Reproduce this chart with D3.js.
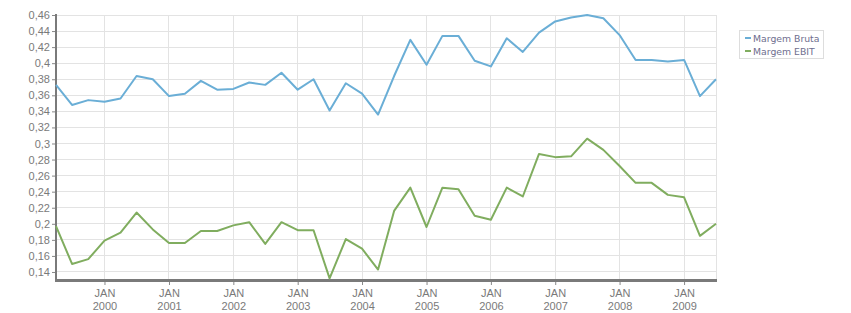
<!DOCTYPE html>
<html><head><meta charset="utf-8">
<script src="https://cdn.jsdelivr.net/npm/d3@7"></script>
<style>
body{margin:0;background:#fff;}
svg{display:block;font-family:"DejaVu Sans",Verdana,sans-serif;}
</style></head>
<body><svg id="c" width="851" height="313"></svg>
<script>
const startQuarter = "1999-04-01";
const seriesNames = ["Margem Bruta", "Margem EBIT"];
const margemBruta = [0.373,0.348,0.354,0.352,0.356,0.384,0.380,0.359,0.362,0.378,0.367,0.368,0.376,0.373,0.388,0.367,0.380,0.341,0.375,0.362,0.336,
  0.384,0.429,0.398,0.434,0.434,0.403,0.396,0.431,0.414,0.438,0.452,0.457,0.460,0.456,0.435,0.404,0.404,0.402,0.404,0.359,0.380];
const margemEbit = [0.197,0.150,0.156,0.179,0.189,0.214,0.193,0.176,0.176,0.191,0.191,0.198,0.202,0.175,0.202,0.192,0.192,0.132,0.181,0.169,0.143,
  0.216,0.245,0.196,0.245,0.243,0.210,0.205,0.245,0.234,0.287,0.283,0.284,0.306,0.292,0.272,0.251,0.251,0.236,0.233,0.185,0.200];
const yTicks = [0.14,0.16,0.18,0.2,0.22,0.24,0.26,0.28,0.3,0.32,0.34,0.36,0.38,0.4,0.42,0.44,0.46];
const xTickYears = [2000,2001,2002,2003,2004,2005,2006,2007,2008,2009];
const colors = ["#6aaed6","#80ad5f"];

const start = d3.timeParse("%Y-%m-%d")(startQuarter);
const dates = margemBruta.map((_, i) => d3.timeMonth.offset(start, 3 * i));
const svg = d3.select("#c");
const L = 56, R = 716, T = 15, B = 280;
const x = d3.scaleTime().domain([dates[0], dates[dates.length - 1]]).range([L, R]);
const y = d3.scaleLinear().domain([0.13, 0.46]).range([B, T]);
const xTickDates = xTickYears.map(yr => new Date(yr, 0, 1));

// grid
svg.append("g").selectAll("line").data(yTicks).join("line")
  .attr("x1", L).attr("x2", R).attr("y1", d => y(d)).attr("y2", d => y(d))
  .attr("stroke", "#e3e3e3").attr("stroke-width", 1).attr("shape-rendering", "crispEdges");
svg.append("g").selectAll("line").data(xTickDates).join("line")
  .attr("x1", d => x(d)).attr("x2", d => x(d)).attr("y1", T).attr("y2", B)
  .attr("stroke", "#e3e3e3").attr("stroke-width", 1).attr("shape-rendering", "crispEdges");
svg.append("line").attr("x1", R).attr("x2", R).attr("y1", T).attr("y2", B)
  .attr("stroke", "#e3e3e3").attr("shape-rendering", "crispEdges");

const fmt = d => String(+d.toFixed(2)).replace(".", ",");
const yAxis = svg.append("g").attr("transform", `translate(${L},0)`)
  .call(d3.axisLeft(y).tickValues(yTicks).tickFormat(fmt).tickSize(4).tickPadding(2));
yAxis.select(".domain").remove();
yAxis.selectAll(".tick line").attr("stroke", "#888");
yAxis.selectAll("text").attr("fill", "#7a7a7a").attr("font-size", "11px");

const xAxis = svg.append("g").attr("transform", `translate(0,${B})`)
  .call(d3.axisBottom(x).tickValues(xTickDates).tickFormat("").tickSize(5));
xAxis.select(".domain").remove();
xAxis.selectAll(".tick line").attr("stroke", "#888");
xAxis.selectAll(".tick").each(function(d) {
  const t = d3.select(this).append("text").attr("fill", "#7a7a7a").attr("font-size", "11px").attr("text-anchor", "middle");
  t.append("tspan").attr("x", 0).attr("y", 17).text("JAN");
  t.append("tspan").attr("x", 0).attr("y", 30).text(d.getFullYear());
});

svg.append("line").attr("x1", L).attr("x2", L).attr("y1", T - 1).attr("y2", B)
  .attr("stroke", "#7a7a7a").attr("stroke-width", 2);
svg.append("line").attr("x1", L - 1).attr("x2", R + 1).attr("y1", B + 0.5).attr("y2", B + 0.5)
  .attr("stroke", "#7a7a7a").attr("stroke-width", 3);

const line = d3.line().x((d, i) => x(dates[i])).y(d => y(d));
[margemBruta, margemEbit].forEach((s, k) => {
  svg.append("path").datum(s).attr("d", line).attr("fill", "none")
    .attr("stroke", colors[k]).attr("stroke-width", 2).attr("stroke-linejoin", "round");
});

const lg = svg.append("g");
lg.append("rect").attr("x", 739.5).attr("y", 30.5).attr("width", 84).attr("height", 28)
  .attr("fill", "#fff").attr("stroke", "#dddddd");
seriesNames.forEach((n, i) => {
  const yy = 38 + i * 13;
  lg.append("line").attr("x1", 745).attr("x2", 751).attr("y1", yy).attr("y2", yy)
    .attr("stroke", colors[i]).attr("stroke-width", 2);
  lg.append("text").attr("x", 753).attr("y", yy + 3.5).attr("font-size", "9.3px")
    .attr("fill", "#6e6e8e").text(n);
});
</script></body></html>
